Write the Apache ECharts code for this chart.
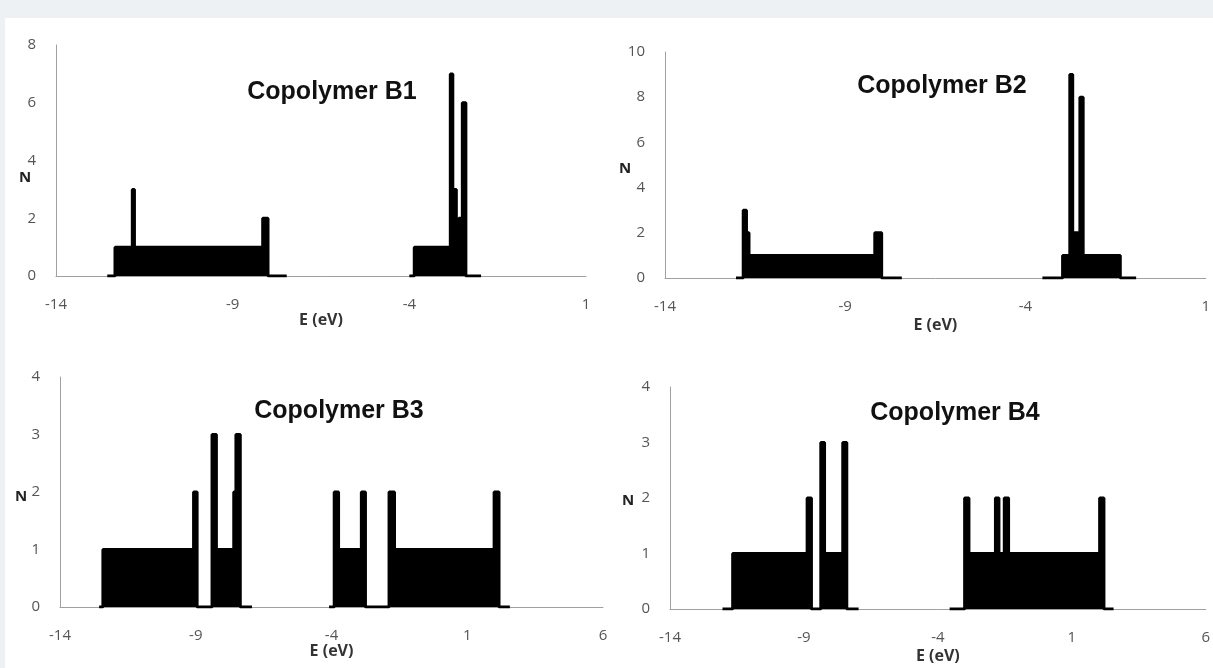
<!DOCTYPE html>
<html>
	<head>
		<title>Copolymer DOS</title>
        <meta charset="utf-8">
        <script src="https://cdn.jsdelivr.net/npm/echarts@6/dist/echarts.min.js"></script>
        <style>
            body { margin: 0; background: #eef1f4; }
        </style>
	</head>

	<body>
        <div id="main" style="width: 1213px; height:668px;"></div>
	</body>
</html>

<script type="text/javascript">
    // density of states, E in eV, N = number of levels
    // (each band is a step profile: N holds from E[i] to E[i+1])
    var titles = ['Copolymer B1', 'Copolymer B2', 'Copolymer B3', 'Copolymer B4'];

    var b1ValE = [-12.55, -12.33, -11.84, -11.78, -8.15, -8.0, -7.47];
    var b1ValN = [0, 1, 3, 1, 2, 0, 0];
    var b1CondE = [-4.0, -3.86, -2.84, -2.77, -2.67, -2.60, -2.50, -2.40, -1.97];
    var b1CondN = [0, 1, 7, 3, 1, 2, 6, 0, 0];

    var b2ValE = [-12.03, -11.83, -11.74, -11.67, -8.18, -7.99, -7.43];
    var b2ValN = [0, 3, 2, 1, 2, 0, 0];
    var b2CondE = [-3.53, -2.97, -2.77, -2.69, -2.49, -2.40, -1.37, -0.93];
    var b2CondN = [0, 1, 9, 2, 8, 1, 0, 0];

    var b3ValE = [-12.56, -12.42, -9.08, -8.95, -8.40, -8.24, -7.60, -7.52, -7.36, -6.93];
    var b3ValN = [0, 1, 2, 0, 3, 1, 2, 3, 0, 0];
    var b3CondE = [-4.09, -3.90, -3.74, -2.90, -2.75, -1.88, -1.68, 1.99, 2.17, 2.57];
    var b3CondN = [0, 2, 1, 2, 0, 2, 1, 2, 0, 0];

    var b4ValE = [-12.04, -11.66, -8.88, -8.72, -8.37, -8.23, -7.55, -7.40, -6.96];
    var b4ValN = [0, 1, 2, 0, 3, 1, 3, 0, 0];
    var b4CondE = [-3.56, -3.0, -2.84, -1.85, -1.72, -1.52, -1.36, 2.04, 2.20, 2.56];
    var b4CondN = [0, 2, 1, 2, 1, 2, 1, 2, 0, 0];

    var xMin = [-14, -14, -14, -14];
    var xMax = [1, 1, 6, 6];
    var yMax = [8, 10, 4, 4];
    var yStep = [2, 2, 1, 1];

    var bands = [
        [[b1ValE, b1ValN], [b1CondE, b1CondN]],
        [[b2ValE, b2ValN], [b2CondE, b2CondN]],
        [[b3ValE, b3ValN], [b3CondE, b3CondN]],
        [[b4ValE, b4ValN], [b4CondE, b4CondN]]
    ];

    function zip(e, n) {
        return e.map(function (v, i) { return [v, n[i]]; });
    }

    // grid boxes in pixels
    var grids = [
        { left: 56, right: 627, top: 45, bottom: 392 },
        { left: 665, right: 6, top: 52, bottom: 390 },
        { left: 60, right: 610, top: 377, bottom: 61 },
        { left: 670, right: 3, top: 387, bottom: 59 }
    ];
    var nameGaps = [36, 39, 33, 39];
    var titlePos = [[332, 92], [942, 86], [339, 411], [955, 413]];
    var nPos = [[25, 178], [625, 169], [21, 497], [628, 501]];

    var axisColor = '#a0a0a0';
    var labelStyle = { color: '#555', fontSize: 15, fontFamily: 'Open Sans' };

    var xAxes = [], yAxes = [], series = [], texts = [];
    for (var i = 0; i < 4; i++) {
        xAxes.push({
            gridIndex: i,
            type: 'value',
            min: xMin[i], max: xMax[i], interval: 5,
            name: 'E (eV)',
            nameLocation: 'middle',
            nameGap: nameGaps[i],
            nameTextStyle: { color: '#333', fontSize: 16, fontWeight: 'bold', fontFamily: 'Open Sans' },
            axisLine: { onZero: false, lineStyle: { color: axisColor, width: 1 } },
            axisTick: { show: false },
            splitLine: { show: false },
            axisLabel: Object.assign({ margin: 21, showMinLabel: true, showMaxLabel: true }, labelStyle)
        });
        yAxes.push({
            gridIndex: i,
            type: 'value',
            min: 0, max: yMax[i], interval: yStep[i],
            axisLine: { show: true, onZero: false, lineStyle: { color: axisColor, width: 1 } },
            axisTick: { show: false },
            splitLine: { show: false },
            axisLabel: Object.assign({ margin: 20 }, labelStyle)
        });
        bands[i].forEach(function (b) {
            series.push({
                type: 'line',
                xAxisIndex: i,
                yAxisIndex: i,
                step: 'end',
                symbol: 'none',
                silent: true,
                data: zip(b[0], b[1]),
                lineStyle: { color: '#000', width: 3 },
                areaStyle: { color: '#000', opacity: 1 }
            });
        });
        texts.push({
            type: 'text',
            x: titlePos[i][0], y: titlePos[i][1],
            style: {
                text: titles[i],
                fill: '#111',
                font: 'bold 25px "Liberation Sans", Arial',
                textAlign: 'center',
                textVerticalAlign: 'middle'
            }
        });
        texts.push({
            type: 'text',
            x: nPos[i][0], y: nPos[i][1],
            style: {
                text: 'N',
                fill: '#222',
                font: 'bold 15px "Open Sans"',
                textAlign: 'center',
                textVerticalAlign: 'middle'
            }
        });
    }

    var myChart = echarts.init(document.getElementById('main'));
    var option = {
        animation: false,
        backgroundColor: '#eef1f4',
        graphic: [{
            type: 'rect',
            shape: { x: 5, y: 18, width: 1208, height: 650 },
            style: { fill: '#fff' },
            z: -10
        }].concat(texts),
        grid: grids,
        xAxis: xAxes,
        yAxis: yAxes,
        series: series
    };
    myChart.setOption(option);
</script>
